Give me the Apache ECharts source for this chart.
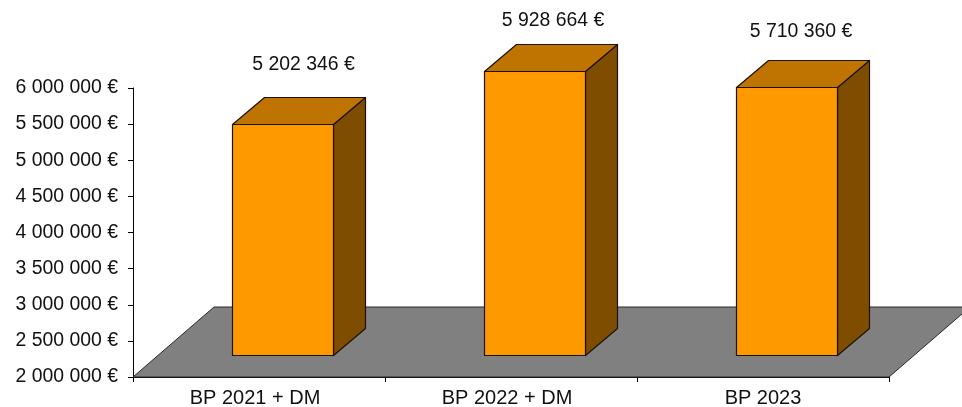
<!DOCTYPE html>
<html><head><meta charset="utf-8">
<style>html,body{margin:0;padding:0;background:#fff}#c{width:962px;height:407px}</style>
<script src="https://cdn.jsdelivr.net/npm/echarts@6/dist/echarts.min.js"></script>
</head><body><div id="c"></div>
<script>
const categories = ['BP 2021 + DM', 'BP 2022 + DM', 'BP 2023'];
const values = [5202346, 5928664, 5710360];
const axisMin = 2000000;
const axisMax = 6000000;
const axisStep = 500000;

const FONT = '"Liberation Sans", Arial, sans-serif';
const FS = 19.4;
const FSX = 20;
const STROKE = '#1c1204';
const floorDepth = [81, 70];
const barShift = [23.5, 22];
const barDepth = [32, 27];
const labelShift = [[20.5, -60], [18, -50.5], [14, -56]];

function fmt(v) {
  return String(v).replace(/\B(?=(\d{3})+$)/g, '\u00a0') + '\u00a0€';
}

const chart = echarts.init(document.getElementById('c'), null, {renderer: 'canvas'});
chart.setOption({
  animation: false,
  backgroundColor: '#fff',
  grid: {left: 133, right: 73, top: 88, bottom: 30, containLabel: false, outerBoundsMode: 'none'},
  xAxis: {
    type: 'category', data: categories, boundaryGap: true,
    axisLine: {lineStyle: {color: '#000', width: 1}},
    axisTick: {show: true, alignWithLabel: false, length: 5, lineStyle: {color: '#000'}},
    axisLabel: {
      color: '#111', fontFamily: FONT, fontSize: FSX, margin: 11, interval: 0,
      formatter: (t, i) => (i < 2 ? '{pad|' + t + '}' : t),
      rich: {pad: {color: '#111', fontFamily: FONT, fontSize: FSX, padding: [0, 8, 0, 0]}}
    },
    splitLine: {show: false}
  },
  yAxis: {
    type: 'value', min: axisMin, max: axisMax, interval: axisStep,
    axisLine: {show: true, lineStyle: {color: '#000', width: 1}},
    axisTick: {show: true, length: 5, lineStyle: {color: '#000'}},
    axisLabel: {color: '#111', fontFamily: FONT, fontSize: FS, margin: 15, formatter: fmt},
    splitLine: {show: false}
  },
  series: [
    {
      type: 'custom', z: 1, silent: true, clip: false,
      data: [[0]],
      renderItem(params) {
        const g = params.coordSys;
        const x0 = g.x, x1 = g.x + g.width, y = g.y + g.height;
        return {
          type: 'polygon',
          shape: {points: [[x0, y], [x1, y], [x1 + floorDepth[0], y - floorDepth[1]], [x0 + floorDepth[0], y - floorDepth[1]]]},
          style: {fill: '#808080', stroke: '#2a2a2a', lineWidth: 1}
        };
      }
    },
    {
      type: 'custom', z: 3, silent: true, clip: false,
      data: values.map((v, i) => [i, v]),
      encode: {x: 0, y: 1},
      renderItem(params, api) {
        const i = api.value(0), v = api.value(1);
        const top = api.coord([i, v]);
        const base = api.coord([i, axisMin]);
        const w = Math.round(api.size([1, 0])[0] * 0.4);
        const xl = Math.round(top[0] - w / 2 + barShift[0]) + .5;
        const xr = xl + w;
        const yt = Math.round(top[1] - barShift[1]) + .5;
        const yb = Math.round(base[1] - barShift[1]) + .5;
        const dx = barDepth[0], dy = barDepth[1];
        const st = {stroke: STROKE, lineWidth: 1.2, lineJoin: 'round'};
        const ls = labelShift[i];
        return {
          type: 'group',
          children: [
            {type: 'polygon', shape: {points: [[xr, yt], [xr + dx, yt - dy], [xr + dx, yb - dy], [xr, yb]]}, style: {fill: '#7F4D00', ...st}},
            {type: 'polygon', shape: {points: [[xl, yt], [xl + dx, yt - dy], [xr + dx, yt - dy], [xr, yt]]}, style: {fill: '#BF7300', ...st}},
            {type: 'polygon', shape: {points: [[xl, yt], [xr, yt], [xr, yb], [xl, yb]]}, style: {fill: '#FF9900', ...st}},
            {type: 'text', style: {
              x: (xl + xr) / 2 + ls[0], y: yt + ls[1], text: fmt(v),
              fill: '#111', font: FS + 'px ' + FONT, align: 'center', verticalAlign: 'middle'
            }}
          ]
        };
      }
    }
  ]
});
</script></body></html>
